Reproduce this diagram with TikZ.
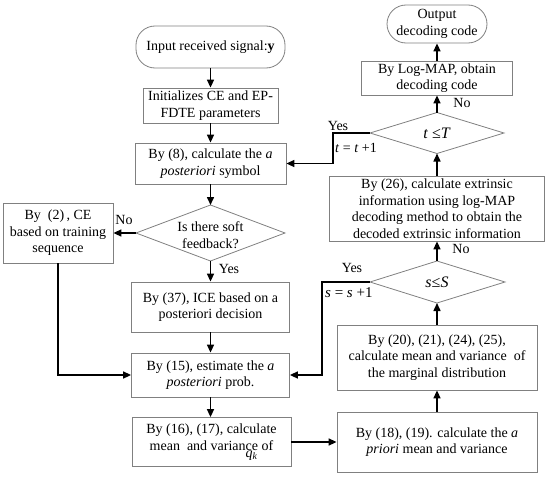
\documentclass[tikz,border=0pt]{standalone}
\usepackage{fontspec}
\setmainfont{Liberation Serif}
\usetikzlibrary{arrows.meta}
\begin{document}
\begin{tikzpicture}[x=1pt,y=-1pt,
  txt/.style={font=\fontsize{14}{16.5}\selectfont, align=center, inner sep=0pt},
  box/.style={txt, draw=black!50, line width=0.8pt},
  stad/.style={box, rounded corners=19pt},
  dia/.style={draw=black!50, line width=0.8pt},
  arr/.style={draw=black, line width=1.5pt, -{Triangle[length=8pt,width=7pt]}},
  lbl/.style={font=\fontsize{14}{16.5}\selectfont, inner sep=0pt}]
\useasboundingbox (0,0) rectangle (550,479);
% left column
\node[stad, minimum width=149pt, minimum height=42pt] (in) at (210.5,47) {Input received signal:\textbf{y}};
\node[box, minimum width=135pt, minimum height=35pt] (init) at (210.5,105.5) {Initializes CE and EP-\\FDTE parameters};
\node[box, minimum width=151pt, minimum height=41pt] (post8) at (210.5,163.5) {By (8), calculate the \textit{a}\\\textit{posteriori} symbol};
\coordinate (fbT) at (210.5,205);
\coordinate (fbB) at (210.5,261);
\coordinate (fbL) at (136,233);
\coordinate (fbR) at (285,233);
\draw[dia] (fbT) -- (fbR) -- (fbB) -- (fbL) -- cycle;
\node[txt] (fb) at (210.5,235) {Is there soft\\feedback?};
\node[box, minimum width=110pt, minimum height=60pt] (ce2) at (58,233) {By~~(2)\,, CE\\based on training\\sequence};
\node[box, minimum width=158pt, minimum height=50pt] (ice) at (210.5,307) {By (37), ICE based on a\\posteriori decision};
\node[box, minimum width=158pt, minimum height=44pt] (est15) at (210.5,375) {By (15), estimate the \textit{a}\\\textit{posteriori} prob.};
\node[box, minimum width=159pt, minimum height=49pt] (m16) at (211.5,442) {By (16), (17), calculate\\mean\ \ and varian\rlap{\raisebox{-7pt}{\textit{q}\textsubscript{\textit{k}}}}ce of};
% right column
\node[box, minimum width=200pt, minimum height=60pt] (p18) at (437,442) {By (18), (19). calculate the \textit{a}\\\textit{priori} mean and variance};
\node[box, minimum width=200pt, minimum height=65pt] (marg) at (437,357.5) {By (20), (21), (24), (25),\\calculate mean and variance\ \ of\\the marginal distribution};
\coordinate (sdT) at (437,261);
\coordinate (sdB) at (437,303);
\coordinate (sdL) at (370,282);
\coordinate (sdR) at (505,282);
\draw[dia] (sdT) -- (sdR) -- (sdB) -- (sdL) -- cycle;
\node[txt, font=\fontsize{16}{18}\selectfont] (sd) at (437,282) {\textit{s}≤\textit{S}};
\node[box, minimum width=215pt, minimum height=65pt] (ext) at (437,208.5) {By (26), calculate extrinsic\\information using log-MAP\\decoding method to obtain the\\decoded extrinsic information};
\coordinate (tdT) at (437,112.5);
\coordinate (tdB) at (437,153.5);
\coordinate (tdL) at (370,133);
\coordinate (tdR) at (504,133);
\draw[dia] (tdT) -- (tdR) -- (tdB) -- (tdL) -- cycle;
\node[txt, font=\fontsize{16}{18}\selectfont] (td) at (437,133) {\textit{t} ≤\textit{T}};
\node[box, minimum width=151pt, minimum height=34pt] (lm) at (437,78) {By Log-MAP, obtain\\decoding code};
\node[stad, minimum width=100pt, minimum height=38pt] (out) at (437,24) {Output\\decoding code};
% loop corners
\coordinate (sdC) at (322,282);
\coordinate (tdC) at (333,133);
% connectors
\draw[arr] (in.south) -- (init.north);
\draw[arr] (init.south) -- (post8.north);
\draw[arr] (post8.south) -- (fbT);
\draw[arr] (fbL) -- (ce2.east);
\draw[arr] (fbB) -- (ice.north);
\draw[arr] (ice.south) -- (est15.north);
\draw[arr] (est15.south) -- (est15.south |- m16.north);
\draw[arr] (ce2.south) |- (est15.west);
\draw[arr] (m16.east) -- (p18.west);
\draw[arr] (p18.north) -- (marg.south);
\draw[arr] (marg.north) -- (sdB);
\draw[arr] (sdT) -- (ext.south);
\draw[arr] (sdL) -- (sdC) |- (est15.east);
\draw[arr] (ext.north) -- (tdB);
\draw[arr] (tdL) -- (tdC) |- (post8.east);
\draw[arr] (tdT) -- (lm.south);
\draw[arr] (lm.north) -- (out.south);
% labels
\node[lbl] (noA) at (124,220) {No};
\node[lbl] (yesA) at (229,269) {Yes};
\node[lbl] (yesS) at (352,268) {Yes};
\node[lbl, anchor=west, font=\fontsize{15}{17}\selectfont] (incS) at (325,293) {\textit{s} = \textit{s} +1};
\node[lbl] (noS) at (461,249) {No};
\node[lbl] (yesT) at (338,126) {Yes};
\node[lbl, anchor=west] (incT) at (335,148) {\textit{t} = \textit{t} +1};
\node[lbl] (noT) at (462,103) {No};
\end{tikzpicture}
\end{document}
